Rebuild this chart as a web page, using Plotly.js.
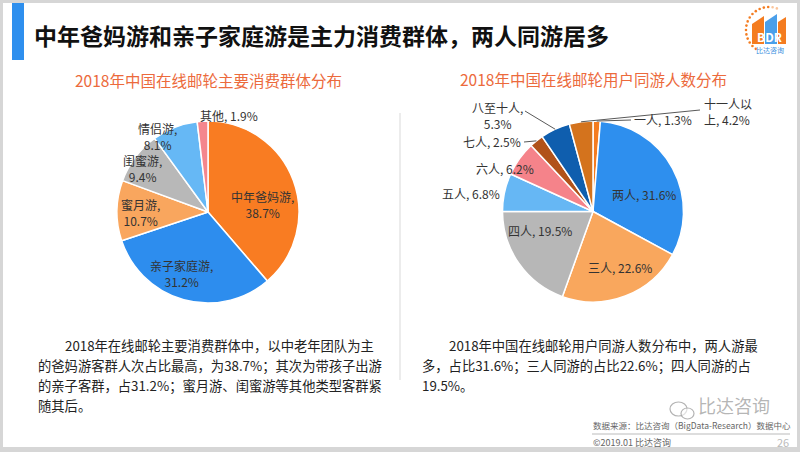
<!DOCTYPE html>
<html>
<head>
<meta charset="utf-8">
<script src="https://cdn.plot.ly/plotly-3.0.1.min.js"></script>
<style>html,body{margin:0;padding:0;background:#fff;}#chart{width:800px;height:452px;}</style>
</head>
<body>
<div id="chart"></div>
<script>
// ---- data ----
const leftTitle = '2018年中国在线邮轮主要消费群体分布';
const leftLabels = ['中年爸妈游', '亲子家庭游', '蜜月游', '闺蜜游', '情侣游', '其他'];
const leftValues = [38.7, 31.2, 10.7, 9.4, 8.1, 1.9];

const rightTitle = '2018年中国在线邮轮用户同游人数分布';
const rightLabels = ['一人', '两人', '三人', '四人', '五人', '六人', '七人', '八至十人', '十一人以上'];
const rightValues = [1.3, 31.6, 22.6, 19.5, 6.8, 6.2, 2.5, 5.3, 4.2];

const mainTitle = '中年爸妈游和亲子家庭游是主力消费群体，两人同游居多';
const leftPara = ['2018年在线邮轮主要消费群体中，以中老年团队为主',
  '的爸妈游客群人次占比最高，为38.7%；其次为带孩子出游',
  '的亲子客群，占31.2%；蜜月游、闺蜜游等其他类型客群紧',
  '随其后。'];
const rightPara = ['2018年中国在线邮轮用户同游人数分布中，两人游最',
  '多，占比31.6%；三人同游的占比22.6%；四人同游的占',
  '19.5%。'];
const sourceText = '数据来源：比达咨询（BigData-Research）数据中心';
const copyText = '©2019.01 比达咨询';
const pageNo = '26';
const watermarkText = '比达咨询';

// ---- styles ----
const leftColors = ['#F97C22', '#2D8DEE', '#F9A65E', '#B8B8B8', '#66B8F5', '#F4868D'];
const rightColors = ['#F47C20', '#2E8FEE', '#F9A75D', '#B7B7B7', '#66B7F4', '#F5838A', '#B1521A', '#0F5EAE', '#D4731D'];
const W = 800, H = 452;
const px = x => x / W, py = y => 1 - y / H;
const FONT = '"Noto Sans CJK SC", "Noto Sans", sans-serif';

const leftPie = {cx: 208, cy: 212, r: 91};
const rightPie = {cx: 593, cy: 211.5, r: 90.5};
// label placement: [x, y, xanchor, breakline]
const leftLabelPos = [[262, 204, 'center', true], [181, 273, 'center', true], [140, 212, 'center', true],
  [142, 168, 'center', true], [157, 136, 'center', true], [229, 115, 'center', false]];
const rightLabelPos = [[633, 120, 'left'], [644, 195, 'center'], [620, 267, 'center'], [540, 230, 'center'],
  [471, 193, 'center'], [505, 168, 'center'], [522, 141, 'right'], [497, 116, 'center'], [703, 112, 'left']];
// leader lines: index -> end point on label side
const rightLeaders = {0: [631, 120], 6: [524, 142], 7: [525, 111], 8: [700, 110]};

function dom(p) {
  return {x: [px(p.cx - p.r), px(p.cx + p.r)], y: [py(p.cy + p.r), py(p.cy - p.r)]};
}
function fmt(v) { return v.toFixed(1) + '%'; }

const traces = [
  {type: 'pie', labels: leftLabels, values: leftValues, sort: false, direction: 'clockwise', rotation: 0,
   marker: {colors: leftColors, line: {color: '#ffffff', width: 1.5}}, textinfo: 'none', hoverinfo: 'label+percent',
   showlegend: false, domain: dom(leftPie)},
  {type: 'pie', labels: rightLabels, values: rightValues, sort: false, direction: 'clockwise', rotation: 0,
   marker: {colors: rightColors, line: {color: '#ffffff', width: 1.5}}, textinfo: 'none', hoverinfo: 'label+percent',
   showlegend: false, domain: dom(rightPie)}
];

const ann = [];
const shapes = [];
function T(x, y, text, opts) {
  const o = Object.assign({xref: 'paper', yref: 'paper', x: px(x), y: py(y), text: text, showarrow: false,
    xanchor: 'center', yanchor: 'middle', borderpad: 0, font: {family: FONT, size: 12, color: '#333'}}, opts || {});
  ann.push(o);
}

// slide background
shapes.push({type: 'rect', xref: 'paper', yref: 'paper', x0: px(3), x1: px(797), y0: py(447), y1: py(3),
  fillcolor: '#ffffff', line: {width: 0}, layer: 'below'});
// blue bar
shapes.push({type: 'rect', xref: 'paper', yref: 'paper', x0: px(12), x1: px(24), y0: py(60), y1: py(3),
  fillcolor: '#2E8FEE', line: {width: 0}, layer: 'below'});
// divider
shapes.push({type: 'line', xref: 'paper', yref: 'paper', x0: px(400), x1: px(400), y0: py(113), y1: py(380),
  line: {color: '#D9D9D9', width: 1}, layer: 'below'});
// footer line
shapes.push({type: 'line', xref: 'paper', yref: 'paper', x0: px(592), x1: px(790), y0: py(434), y1: py(434),
  line: {color: '#BBBBBB', width: 1}, layer: 'below'});

// title
T(33, 35, '<b>' + mainTitle + '</b>', {xanchor: 'left', font: {family: FONT, size: 23, color: '#111'}});
T(208, 80, leftTitle, {font: {family: FONT, size: 15.5, color: '#EC6A3C'}});
T(593, 79, rightTitle, {font: {family: FONT, size: 15.5, color: '#EC6A3C'}});

// left pie labels
leftLabels.forEach((l, i) => {
  const p = leftLabelPos[i];
  T(p[0], p[1], l + ',' + (p[3] ? '<br>' : ' ') + fmt(leftValues[i]), {xanchor: p[2], align: 'center'});
});
// right pie labels + leader lines computed from slice angles
let cum = 0;
const total = rightValues.reduce((a, b) => a + b, 0);
rightLabels.forEach((l, i) => {
  const p = rightLabelPos[i];
  let txt;
  if (l === '八至十人') txt = l + ',<br>' + fmt(rightValues[i]);
  else if (l === '十一人以上') txt = l.slice(0, 4) + '<br>' + l.slice(4) + ', ' + fmt(rightValues[i]);
  else txt = l + ', ' + fmt(rightValues[i]);
  T(p[0], p[1], txt, {xanchor: p[2], align: p[2] === 'left' ? 'left' : 'center'});
  const mid = (cum + rightValues[i] / 2) / total * 2 * Math.PI;
  cum += rightValues[i];
  if (rightLeaders[i]) {
    const ex = rightPie.cx + rightPie.r * Math.sin(mid), ey = rightPie.cy - rightPie.r * Math.cos(mid);
    const e = rightLeaders[i];
    shapes.push({type: 'line', xref: 'paper', yref: 'paper', x0: px(ex), y0: py(ey), x1: px(e[0]), y1: py(e[1]),
      line: {color: '#595959', width: 1}});
  }
});

// paragraphs
const pf = {family: FONT, size: 13.3, color: '#222'};
leftPara.forEach((s, i) => T(i === 0 ? 64 : 37, 345 + i * 20, s, {xanchor: 'left', font: pf}));
rightPara.forEach((s, i) => T(i === 0 ? 448 : 421, 345 + i * 20, s, {xanchor: 'left', font: pf}));

// footer
T(592, 425, sourceText, {xanchor: 'left', font: {family: FONT, size: 8.5, color: '#666'}});
T(592, 442, copyText, {xanchor: 'left', font: {family: FONT, size: 9, color: '#666'}});
T(790, 442, pageNo, {xanchor: 'right', font: {family: FONT, size: 11, color: '#BBBBBB'}});
// watermark
T(734, 405, watermarkText, {font: {family: FONT, size: 18, color: 'rgba(150,150,150,0.7)'}});
shapes.push({type: 'circle', xref: 'paper', yref: 'paper', x0: px(670), x1: px(687), y0: py(416), y1: py(402),
  line: {color: 'rgba(160,160,160,0.8)', width: 1.2}, fillcolor: 'rgba(255,255,255,0.6)'});
shapes.push({type: 'circle', xref: 'paper', yref: 'paper', x0: px(681), x1: px(694), y0: py(419), y1: py(408),
  line: {color: 'rgba(160,160,160,0.8)', width: 1.2}, fillcolor: 'rgba(255,255,255,0.6)'});

// logo
function poly(pts) {
  return 'M ' + pts.map(p => px(p[0]) + ',' + py(p[1])).join(' L ') + ' Z';
}
for (let a = 215; a <= 380; a += 11) {
  const t = a * Math.PI / 180;
  const x = 769 + 23 * Math.sin(t), y = 30 - 23 * Math.cos(t);
  const c = a > 360 ? 'rgba(244,124,32,0.45)' : '#F47C20';
  shapes.push({type: 'circle', xref: 'paper', yref: 'paper', x0: px(x - 1.3), x1: px(x + 1.3), y0: py(y + 1.3), y1: py(y - 1.3),
    fillcolor: c, line: {width: 0}});
}
shapes.push({type: 'path', xref: 'paper', yref: 'paper', path: poly([[752, 44], [752, 24], [764, 16], [764, 44]]), fillcolor: '#F47C20', line: {width: 0}});
shapes.push({type: 'path', xref: 'paper', yref: 'paper', path: poly([[765, 44], [765, 22], [777, 14], [777, 44]]), fillcolor: '#4A9FEA', line: {width: 0}});
shapes.push({type: 'path', xref: 'paper', yref: 'paper', path: poly([[778, 44], [778, 22], [786, 17], [786, 44]]), fillcolor: '#F47C20', line: {width: 0}});
T(769, 37, '<b>BDR</b>', {font: {family: FONT, size: 12, color: '#ffffff'}});
T(770, 50, '比达咨询', {font: {family: FONT, size: 7, color: '#3A8FE0'}});

const layout = {
  width: W, height: H, margin: {l: 0, r: 0, t: 0, b: 0},
  paper_bgcolor: '#D6D6D6', plot_bgcolor: 'rgba(0,0,0,0)',
  showlegend: false, annotations: ann, shapes: shapes
};
Plotly.newPlot('chart', traces, layout, {displayModeBar: false, staticPlot: true});
</script>
</body>
</html>
